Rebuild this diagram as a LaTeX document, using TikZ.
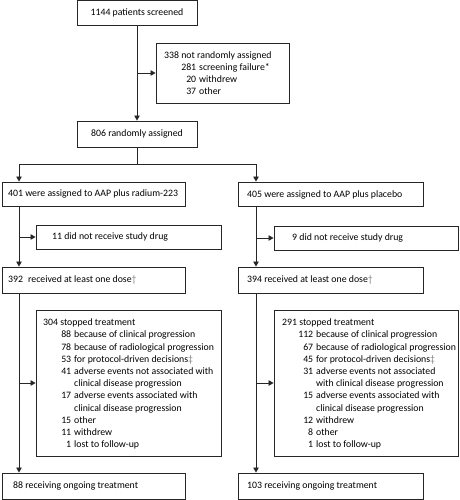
\documentclass[tikz,border=0pt]{standalone}
\usepackage{fontspec}
\setmainfont{Carlito}
\usetikzlibrary{arrows.meta}
\newcommand{\rowitem}[3]{\makebox[#1][r]{#2}\hspace{3pt}#3}
\newcommand{\contline}[2]{\hspace*{\dimexpr#1+3pt\relax}#2}
\tikzset{
  box/.style={draw=black!85, line width=0.9pt, inner sep=0pt},
  txt/.style={inner sep=0pt, font=\fontsize{9.8}{12.2}\selectfont, align=left, text=black},
  conn/.style={draw=black!85, line width=0.8pt},
  arr/.style={conn, -{Triangle[length=5pt,width=5.5pt]}}
}
\begin{document}
\begin{tikzpicture}[x=1pt,y=-1pt]
\useasboundingbox (0,0) rectangle (459,500);
% boxes
\node[box, minimum width=120pt, minimum height=25pt] (n1144) at (137,13) {};
\node[box, minimum width=133pt, minimum height=60pt] (excl) at (222.5,73) {};
\node[box, minimum width=120pt, minimum height=26pt] (n806) at (137,134) {};
\node[box, minimum width=183pt, minimum height=24pt] (n401) at (93.5,194) {};
\node[box, minimum width=185pt, minimum height=24pt] (n405) at (330.5,194) {};
\node[box, minimum width=185pt, minimum height=24pt] (n11) at (128.5,237) {};
\node[box, minimum width=184pt, minimum height=24pt] (n9) at (366,238) {};
\node[box, minimum width=183pt, minimum height=26pt] (n392) at (93.5,280) {};
\node[box, minimum width=185pt, minimum height=26pt] (n394) at (330.5,280) {};
\node[box, minimum width=185pt, minimum height=146pt] (n304) at (128.5,383) {};
\node[box, minimum width=184pt, minimum height=146pt] (n291) at (366,383) {};
\node[box, minimum width=183pt, minimum height=26pt] (n88) at (93.5,486) {};
\node[box, minimum width=185pt, minimum height=26pt] (n103) at (330.5,486) {};
% texts
\node[txt] (t1144) at (n1144.center) {1144 patients screened};
\node[txt, anchor=west] (texcl) at (164,73) {338 not randomly assigned\\
\rowitem{32pt}{281}{screening failure*}\\
\rowitem{32pt}{20}{withdrew}\\
\rowitem{32pt}{37}{other}};
\node[txt] (t806) at (n806.center) {806 randomly assigned};
\node[txt, anchor=west] (t401) at (8,194) {401 were assigned to AAP plus radium-223};
\node[txt, anchor=west] (t405) at (247,195) {405 were assigned to AAP plus placebo};
\node[txt, anchor=west] (t11) at (52,237) {11 did not receive study drug};
\node[txt, anchor=west] (t9) at (292,238) {9 did not receive study drug};
\node[txt, anchor=west] (t392) at (8,280) {392\hspace{5pt}received at least one dose\textcolor{black!50}{\textdagger}};
\node[txt, anchor=west] (t394) at (247,280) {394 received at least one dose\textcolor{black!50}{\textdagger}};
\node[txt, anchor=west] (t304) at (43,384) {304 stopped treatment\\
\rowitem{28pt}{88}{because of clinical progression}\\
\rowitem{28pt}{78}{because of radiological progression}\\
\rowitem{28pt}{53}{for protocol-driven decisions\textcolor{black!50}{\textdaggerdbl}}\\
\rowitem{28pt}{41}{adverse events not associated with}\\
\contline{28pt}{clinical disease progression}\\
\rowitem{28pt}{17}{adverse events associated with}\\
\contline{28pt}{clinical\ disease progression}\\
\rowitem{28pt}{15}{other}\\
\rowitem{28pt}{11}{withdrew}\\
\rowitem{28pt}{1}{lost to follow-up}};
\node[txt, anchor=west] (t291) at (282,384) {291 stopped treatment\\
\rowitem{31pt}{112}{because of clinical progression}\\
\rowitem{31pt}{67}{because of radiological progression}\\
\rowitem{31pt}{45}{for protocol-driven decisions\textcolor{black!50}{\textdaggerdbl}}\\
\rowitem{31pt}{31}{adverse events not associated}\\
\contline{31pt}{with clinical disease progression}\\
\rowitem{31pt}{15}{adverse events associated with}\\
\contline{31pt}{clinical disease progression}\\
\rowitem{31pt}{12}{withdrew}\\
\rowitem{31pt}{8}{other}\\
\rowitem{31pt}{1}{lost to follow-up}};
\node[txt, anchor=west] (t88) at (13,486) {88 receiving ongoing treatment};
\node[txt, anchor=west] (t103) at (247,486) {103 receiving ongoing treatment};
% connectors
\coordinate (s) at (137,164);
\coordinate (sl) at (19,164);
\coordinate (sr) at (256,164);
\draw[arr] (n1144.south) -- (n806.north);
\draw[arr] (n1144.south |- excl.west) -- (excl.west);
\draw[conn] (n806.south) -- (s);
\draw[conn] (sl) -- (sr);
\draw[arr] (sl) -- (sl |- n401.north);
\draw[arr] (sr) -- (sr |- n405.north);
\draw[arr] (sl |- n401.south) -- (sl |- n392.north);
\draw[arr] (sl |- n11.west) -- (n11.west);
\draw[arr] (sr |- n405.south) -- (sr |- n394.north);
\draw[arr] (sr |- n9.west) -- (n9.west);
\draw[arr] (sl |- n392.south) -- (sl |- n88.north);
\draw[arr] (sl |- n304.west) -- (n304.west);
\draw[arr] (sr |- n394.south) -- (sr |- n103.north);
\draw[arr] (sr |- n291.west) -- (n291.west);
\end{tikzpicture}
\end{document}
